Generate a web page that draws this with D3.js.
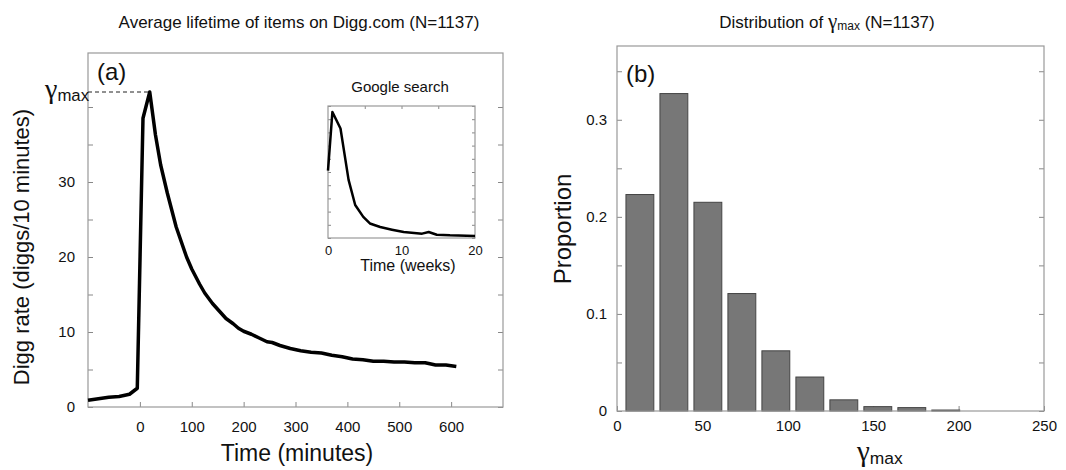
<!DOCTYPE html>
<html>
<head>
<meta charset="utf-8">
<script src="https://cdn.jsdelivr.net/npm/d3@7"></script>
<style>
  body { margin: 0; background: #fff; }
  text { font-family: "Liberation Sans", Arial, sans-serif; fill: #111; }
  .axis path { display: none; }
  .axis line { stroke: #888; }
  .frame { fill: none; stroke: #999; stroke-width: 1.2; }
</style>
</head>
<body>
<script>
// (a) average digg rate around promotion
var minutes = [-100, -80, -60, -40, -20, -5, 6, 19, 30, 40, 53, 70, 90, 100, 115, 125, 140, 153, 166, 180, 190, 200, 215, 230, 245, 255, 270, 290, 310, 330, 350, 370, 390, 410, 430, 450, 470, 490, 510, 530, 550, 570, 590, 610]
var diggRate = [0.9, 1.1, 1.3, 1.4, 1.7, 2.5, 38.5, 42.0, 36.3, 32.3, 28.5, 24.0, 20.0, 18.4, 16.4, 15.2, 13.8, 12.8, 11.8, 11.1, 10.5, 10.1, 9.7, 9.2, 8.7, 8.6, 8.2, 7.8, 7.5, 7.3, 7.2, 6.9, 6.7, 6.4, 6.3, 6.1, 6.1, 6.0, 6.0, 5.9, 5.9, 5.6, 5.6, 5.4]
var gammaMax = 42.0

// inset: google search interest
var weeks = [0, 0.6, 1.7, 2.8, 3.7, 4.8, 5.7, 7.1, 8.7, 10.3, 12.8, 13.7, 14.8, 16.6, 20]
var interest = [0.51, 0.955, 0.83, 0.44, 0.25, 0.16, 0.11, 0.083, 0.063, 0.045, 0.033, 0.045, 0.025, 0.02, 0.015]

// (b) histogram of gamma max
var binCenters = [13.4, 33.3, 53.2, 73.1, 93, 112.9, 132.8, 152.7, 172.6, 192.5]
var proportion = [0.223, 0.327, 0.215, 0.121, 0.062, 0.035, 0.0115, 0.0045, 0.0035, 0.001]
var binWidth = 19.9

var svg = d3.select('body').append('svg')
  .attr('width', 1066)
  .attr('height', 470)

function gammaLabel (g, x, y, size) {
  var t = g.append('text').attr('x', x).attr('y', y)
  t.append('tspan').text('γ')
    .style('font-family', '"Liberation Serif", serif')
    .style('font-size', size + 'px')
  t.append('tspan').text('max')
    .attr('dy', size * 0.12)
    .style('font-size', (size * 0.6) + 'px')
  return t
}

// ---------- panel (a)
var a = {left: 88, right: 503, top: 53, bottom: 407}
var xa = d3.scaleLinear().domain([-100, 700]).range([a.left, a.right])
var ya = d3.scaleLinear().domain([0, 47.2]).range([a.bottom, a.top])

svg.append('text')
  .attr('x', 299).attr('y', 28)
  .attr('text-anchor', 'middle')
  .style('font-size', '17px')
  .text('Average lifetime of items on Digg.com (N=1137)')

svg.append('g').attr('class', 'axis')
  .attr('transform', 'translate(0,' + a.bottom + ')')
  .call(d3.axisBottom(xa).tickValues([0, 100, 200, 300, 400, 500, 600]).tickSize(-5).tickPadding(14))
  .selectAll('text').style('font-size', '15px').attr('fill', '#111')

svg.append('g').attr('class', 'axis')
  .attr('transform', 'translate(' + a.left + ',0)')
  .call(d3.axisLeft(ya).tickValues([0, 5, 10, 15, 20, 25, 30, 35, 40]).tickSize(-5).tickPadding(13)
    .tickFormat(function (d) { return (d % 10 === 0 && d < 40) ? d : '' }))
  .selectAll('text').style('font-size', '15px').attr('fill', '#111')

svg.append('g').attr('class', 'axis')
  .attr('transform', 'translate(' + a.right + ',0)')
  .call(d3.axisRight(ya).tickValues([0, 5, 10, 15, 20, 25, 30, 35, 40]).tickSize(-5).tickFormat(''))

svg.append('rect').attr('class', 'frame')
  .attr('x', a.left).attr('y', a.top)
  .attr('width', a.right - a.left).attr('height', a.bottom - a.top)

svg.append('line')
  .attr('x1', a.left).attr('x2', xa(minutes[diggRate.indexOf(gammaMax)]))
  .attr('y1', ya(gammaMax)).attr('y2', ya(gammaMax))
  .attr('stroke', '#222').attr('stroke-dasharray', '4,3')

var lineA = d3.line().x(function (d, i) { return xa(minutes[i]) }).y(function (d) { return ya(d) })
svg.append('path')
  .datum(diggRate)
  .attr('d', lineA)
  .attr('fill', 'none').attr('stroke', '#000').attr('stroke-width', 3.5)
  .attr('stroke-linejoin', 'round')

gammaLabel(svg, 45, ya(gammaMax) + 6, 28)

svg.append('text').attr('x', 97).attr('y', 80)
  .style('font-size', '24px').text('(a)')

svg.append('text')
  .attr('transform', 'translate(29,247) rotate(-90)')
  .attr('text-anchor', 'middle')
  .style('font-size', '22px')
  .text('Digg rate (diggs/10 minutes)')

svg.append('text')
  .attr('x', 297).attr('y', 461)
  .attr('text-anchor', 'middle')
  .style('font-size', '23px')
  .text('Time (minutes)')

// ---------- inset
var ins = {left: 328, right: 475, top: 106, bottom: 238}
var xi = d3.scaleLinear().domain([0, 20]).range([ins.left, ins.right])
var yi = d3.scaleLinear().domain([0, 1]).range([ins.bottom, ins.top])

svg.append('rect').attr('fill', '#fff')
  .attr('x', ins.left).attr('y', ins.top)
  .attr('width', ins.right - ins.left).attr('height', ins.bottom - ins.top)

svg.append('g').attr('class', 'axis')
  .attr('transform', 'translate(0,' + ins.bottom + ')')
  .call(d3.axisBottom(xi).tickValues([0, 10, 20]).tickSize(0).tickPadding(8))
  .selectAll('text').style('font-size', '13px').attr('fill', '#111')
svg.append('g').attr('class', 'axis')
  .attr('transform', 'translate(0,' + ins.top + ')')
  .call(d3.axisTop(xi).tickValues([5, 10, 15]).tickSize(-3).tickFormat(''))
svg.append('g').attr('class', 'axis')
  .attr('transform', 'translate(' + ins.left + ',0)')
  .call(d3.axisLeft(yi).ticks(10).tickSize(-3).tickFormat(''))
svg.append('g').attr('class', 'axis')
  .attr('transform', 'translate(' + ins.right + ',0)')
  .call(d3.axisRight(yi).ticks(10).tickSize(-3).tickFormat(''))

svg.append('rect').attr('class', 'frame')
  .attr('x', ins.left).attr('y', ins.top)
  .attr('width', ins.right - ins.left).attr('height', ins.bottom - ins.top)

var lineI = d3.line().x(function (d, i) { return xi(weeks[i]) }).y(function (d) { return yi(d) })
svg.append('path')
  .datum(interest)
  .attr('d', lineI)
  .attr('fill', 'none').attr('stroke', '#000').attr('stroke-width', 2.5)
  .attr('stroke-linejoin', 'round')

svg.append('text').attr('x', 400).attr('y', 92)
  .attr('text-anchor', 'middle').style('font-size', '15px').text('Google search')
svg.append('text').attr('x', 408).attr('y', 271)
  .attr('text-anchor', 'middle').style('font-size', '16px').text('Time (weeks)')

// ---------- panel (b)
var b = {left: 617, right: 1044, top: 46, bottom: 411}
var xb = d3.scaleLinear().domain([0, 250]).range([b.left, b.right])
var yb = d3.scaleLinear().domain([0, 0.376]).range([b.bottom, b.top])

var title = svg.append('text')
  .attr('x', 827).attr('y', 28)
  .attr('text-anchor', 'middle')
  .style('font-size', '17px')
title.append('tspan').text('Distribution of ')
title.append('tspan').text('γ').style('font-family', '"Liberation Serif", serif').style('font-size', '21px')
title.append('tspan').text('max').attr('dy', 2).style('font-size', '12px')
title.append('tspan').text(' (N=1137)').attr('dy', -2)

svg.append('g').attr('class', 'axis')
  .attr('transform', 'translate(0,' + b.bottom + ')')
  .call(d3.axisBottom(xb).tickValues([0, 50, 100, 150, 200, 250]).tickSize(-5).tickPadding(9))
  .selectAll('text').style('font-size', '15px').attr('fill', '#111')

var yTicksB = [0, 0.05, 0.1, 0.15, 0.2, 0.25, 0.3, 0.35]
svg.append('g').attr('class', 'axis')
  .attr('transform', 'translate(' + b.left + ',0)')
  .call(d3.axisLeft(yb).tickValues(yTicksB).tickSize(-5).tickPadding(10)
    .tickFormat(function (d) { return [0, 0.1, 0.2, 0.3].indexOf(d) >= 0 ? d3.format('~g')(d) : '' }))
  .selectAll('text').style('font-size', '15px').attr('fill', '#111')
svg.append('g').attr('class', 'axis')
  .attr('transform', 'translate(' + b.right + ',0)')
  .call(d3.axisRight(yb).tickValues(yTicksB).tickSize(-5).tickFormat(''))

svg.selectAll('rect.bar')
  .data(proportion)
  .enter().append('rect')
  .attr('class', 'bar')
  .attr('x', function (d, i) { return xb(binCenters[i] - binWidth * 0.41) })
  .attr('width', xb(binWidth * 0.82) - xb(0))
  .attr('y', function (d) { return yb(d) })
  .attr('height', function (d) { return yb(0) - yb(d) })
  .attr('fill', '#777').attr('stroke', '#444').attr('stroke-width', 1)

svg.append('rect').attr('class', 'frame')
  .attr('x', b.left).attr('y', b.top)
  .attr('width', b.right - b.left).attr('height', b.bottom - b.top)

svg.append('text').attr('x', 626).attr('y', 82)
  .style('font-size', '24px').text('(b)')

svg.append('text')
  .attr('transform', 'translate(571,229) rotate(-90)')
  .attr('text-anchor', 'middle')
  .style('font-size', '24px')
  .text('Proportion')

gammaLabel(svg, 857, 461, 29)
</script>
</body>
</html>
